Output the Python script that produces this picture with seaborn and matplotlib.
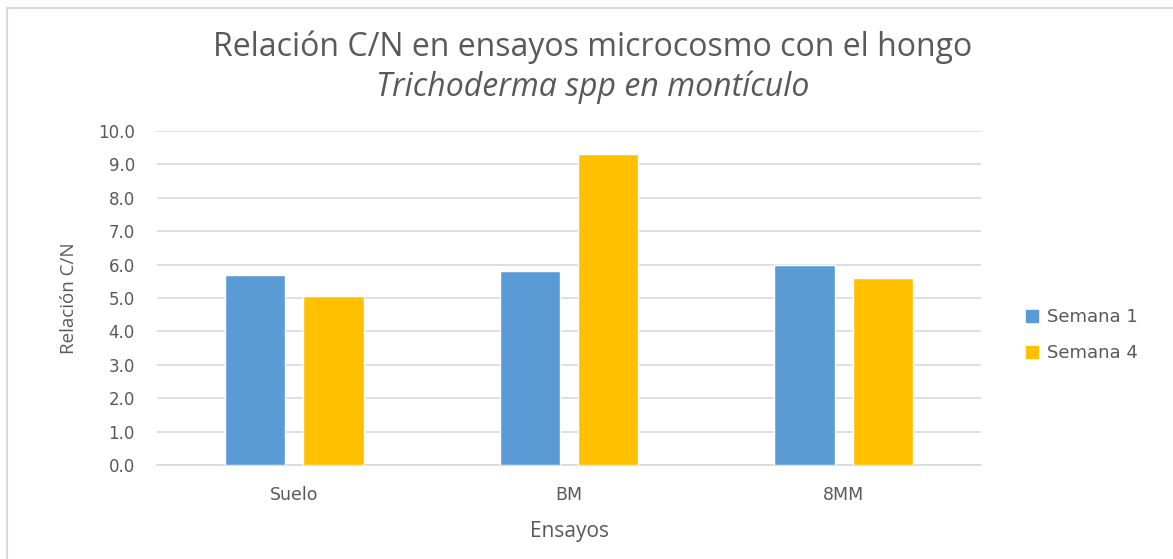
import matplotlib
matplotlib.use("Agg")
import matplotlib.pyplot as plt
import seaborn as sns
import pandas as pd
from matplotlib.patches import Rectangle
from matplotlib.lines import Line2D

# Data
ensayos = ["Suelo", "BM", "8MM"]
semana_1 = [5.7, 5.8, 6.0]
semana_4 = [5.05, 9.3, 5.6]
series_names = ["Semana 1", "Semana 4"]
colors = ["#5B9BD5", "#FFC000"]
yticks = [0, 1, 2, 3, 4, 5, 6, 7, 8, 9, 10]

df = pd.DataFrame({
    "Ensayos": ensayos * 2,
    "valor": semana_1 + semana_4,
    "serie": [series_names[0]] * 3 + [series_names[1]] * 3,
})

sns.set_theme(style="white")
plt.rcParams["font.family"] = ["DejaVu Sans"]

TXT = "#595959"
W, H = 1173, 559
fig = plt.figure(figsize=(W / 100, H / 100), dpi=100)
ax = fig.add_axes([157 / W, 1 - 465 / H, (981 - 157) / W, (465 - 131) / H])

sns.barplot(data=df, x="Ensayos", y="valor", hue="serie", palette=colors,
            width=0.57, gap=0.23, saturation=1, ax=ax, legend=False,
            errorbar=None, zorder=3)

ax.set_ylim(0, 10)
ax.set_xlim(-0.5, 2.5)
ax.set_yticks(yticks)
ax.set_yticklabels([f"{v:.1f}" for v in yticks], fontsize=12, color=TXT)
ax.set_xticks(range(len(ensayos)))
ax.set_xticklabels(ensayos, fontsize=12.5, color=TXT)
ax.tick_params(axis="y", length=0, pad=16)
ax.tick_params(axis="x", length=0, pad=15)
ax.yaxis.grid(True, color="#D9D9D9", linewidth=1.2, zorder=0)
ax.set_axisbelow(True)
for s in ["top", "right", "left"]:
    ax.spines[s].set_visible(False)
ax.spines["bottom"].set_color("#D9D9D9")
ax.spines["bottom"].set_linewidth(1.2)

ax.set_xlabel("Ensayos", family="Open Sans", fontsize=15, color=TXT, labelpad=12)
ax.set_ylabel("Relación C/N", family="Open Sans", fontsize=13.5, color=TXT, labelpad=14)

# Title
fig.text(0.505, 1 - 47 / H, "Relación C/N en ensayos microcosmo con el hongo",
         ha="center", va="center", family="Open Sans", fontsize=23, color=TXT)
fig.text(0.505, 1 - 87 / H, "Trichoderma spp en montículo",
         ha="center", va="center", family="Open Sans", style="italic",
         fontsize=23, color=TXT)

# Legend
handles = [Line2D([0], [0], marker="s", linestyle="none", markersize=8,
                  markerfacecolor=c, markeredgecolor=c) for c in colors]
fig.legend(handles, series_names, loc="center left",
           bbox_to_anchor=(1007 / W, 1 - 335 / H), frameon=False, fontsize=13,
           labelcolor=TXT, handletextpad=0.3, labelspacing=1.0,
           handlelength=1.0)

# Chart-area border
fig.patches.append(Rectangle((7 / W, -0.1), 1.2, 1 - 8 / H + 0.1,
                             transform=fig.transFigure, fill=False,
                             edgecolor="#D9D9D9", linewidth=1.5))

fig.savefig("out.png", dpi=100, facecolor="white")
